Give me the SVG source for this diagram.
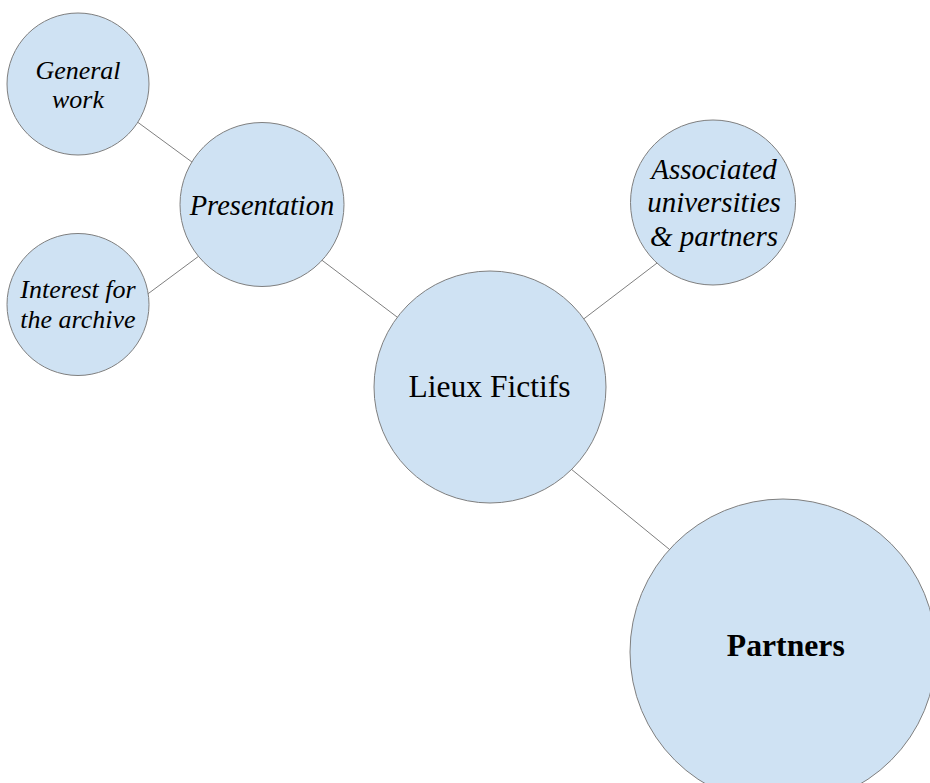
<svg xmlns="http://www.w3.org/2000/svg" width="930" height="783" viewBox="0 0 930 783">
<style>
.n{fill:#cfe2f3;stroke:#7f7f7f;stroke-width:1}
.e{stroke:#7f7f7f;stroke-width:1;fill:none}
.t{font-family:'Liberation Serif','Times New Roman','DejaVu Serif',serif;fill:#000;text-anchor:middle}
.i{font-style:italic}
</style>
<rect width="930" height="783" fill="#fff"/>
<g id="connectors">
<line class="e" x1="134" y1="119.5" x2="196" y2="165"/>
<line class="e" x1="143" y1="297.5" x2="203" y2="253"/>
<line class="e" x1="319" y1="258" x2="401" y2="320"/>
<line class="e" x1="581" y1="321" x2="661" y2="260"/>
<line class="e" x1="568" y1="466.5" x2="672" y2="551.5"/>
</g>
<g id="general-work">
<circle class="n" cx="78" cy="84" r="71"/>
<text class="t i" x="78" y="79.3" font-size="26">General</text>
<text class="t i" x="78" y="108.3" font-size="26">work</text>
</g>
<g id="interest">
<circle class="n" cx="78" cy="304.5" r="71"/>
<text class="t i" x="78" y="298.3" font-size="26">Interest for</text>
<text class="t i" x="78" y="328.3" font-size="26">the archive</text>
</g>
<g id="presentation">
<circle class="n" cx="262" cy="204.5" r="82"/>
<text class="t i" x="262" y="215" font-size="28.5">Presentation</text>
</g>
<g id="lieux-fictifs">
<circle class="n" cx="490" cy="387" r="116"/>
<text class="t" x="489.5" y="397.3" font-size="31.5">Lieux Fictifs</text>
</g>
<g id="associated">
<circle class="n" cx="713" cy="202.5" r="82.5"/>
<text class="t i" x="714" y="179.3" font-size="29">Associated</text>
<text class="t i" x="714" y="212" font-size="29">universities</text>
<text class="t i" x="714" y="246" font-size="29">&amp; partners</text>
</g>
<g id="partners">
<circle class="n" cx="783" cy="652" r="153"/>
<text class="t" x="785.8" y="655.7" font-size="31.7" font-weight="bold">Partners</text>
</g>
</svg>
